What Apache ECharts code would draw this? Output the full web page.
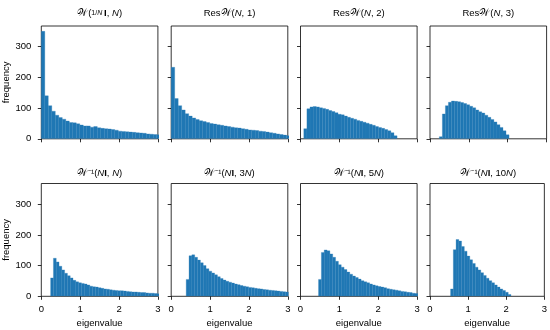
<!DOCTYPE html>
<html>
<head>
<meta charset="utf-8">
<script src="https://cdn.jsdelivr.net/npm/echarts@6/dist/echarts.min.js"></script>
<style>
html,body{margin:0;padding:0;background:#fff;}
#main{width:550px;height:330px;}
</style>
</head>
<body>
<div id="main"></div>
<script>
// 标题
var titles = [
  '{c|𝒲}({s|1/}{si|N}\u2009{b|I}, {i|N})',
  'Res{c|𝒲}({i|N}, 1)',
  'Res{c|𝒲}({i|N}, 2)',
  'Res{c|𝒲}({i|N}, 3)',
  '{c|𝒲}⁻¹({i|N}{b|I}, {i|N})',
  '{c|𝒲}⁻¹({i|N}{b|I}, 3{i|N})',
  '{c|𝒲}⁻¹({i|N}{b|I}, 5{i|N})',
  '{c|𝒲}⁻¹({i|N}{b|I}, 10{i|N})'
];

// 每个直方图的起始边和组距
var binStart = [0, 0, 0.085, 0.24, 0.24, 0.386, 0.464, 0.54];
var binWidth = [0.09, 0.09, 0.08, 0.078, 0.072, 0.073, 0.073, 0.072];

// 频数
var counts1 = [350, 140, 108, 90, 77, 69, 64, 58, 53, 52, 49, 45, 42, 42, 38, 40, 36, 34, 33, 32,
  30, 28, 25, 24, 23, 22, 21, 20, 19, 18, 16, 15, 14, 13];
var counts2 = [233, 131, 108, 94, 82, 74, 68, 63, 59, 56, 53, 50, 48, 46, 44, 42, 40, 38, 36, 35,
  33, 31, 29, 28, 27, 25, 24, 22, 20, 18, 16, 14, 12, 10];
var counts3 = [33, 98, 104, 105, 104, 101, 99, 96, 92, 89, 85, 80, 78, 74, 70, 67, 64, 60, 57, 54,
  51, 47, 44, 40, 37, 34, 30, 26, 20, 10];
var counts4 = [7, 81, 108, 119, 123, 122, 121, 118, 115, 111, 106, 101, 94, 88, 84, 77, 70, 63, 55, 46,
  37, 26, 13];
var counts5 = [60, 124, 112, 98, 86, 75, 67, 60, 52, 47, 44, 42, 40, 37, 33, 31, 30, 28, 26, 24,
  23, 21, 20, 19, 18, 18, 17, 16, 15, 14, 14, 13, 12, 12, 11, 10, 10, 9, 8];
var counts6 = [55, 132, 135, 127, 118, 109, 100, 90, 82, 76, 70, 64, 58, 53, 49, 46, 43, 40, 38, 35,
  33, 31, 29, 28, 26, 25, 24, 22, 21, 20, 19, 18, 17, 16, 15, 14];
var counts7 = [55, 143, 151, 148, 138, 127, 114, 103, 95, 87, 79, 72, 66, 61, 56, 51, 47, 44, 40, 37,
  34, 32, 30, 28, 25, 23, 21, 20, 18, 16, 15, 13, 12, 10, 9];
var counts8 = [24, 152, 185, 180, 162, 147, 131, 119, 107, 95, 86, 77, 68, 59, 51, 44, 37, 30, 24, 19,
  13, 6];
var allCounts = [counts1, counts2, counts3, counts4, counts5, counts6, counts7, counts8];

var yTicks = [0, 100, 200, 300];
var xTicks = [0, 1, 2, 3];

var lefts = [41.3, 171.2, 300.5, 430];
var tops = [26, 183.5];
var gw = 116.6, gh = 112.8;
var font = 'Liberation Sans';

var grids = [], xAxes = [], yAxes = [], series = [], titleList = [];

function renderBar(params, api){
    var a = api.coord([api.value(0), api.value(2)]);
    var b = api.coord([api.value(1), 0]);
    return {
        type: 'rect',
        shape: {x: a[0], y: a[1], width: b[0] - a[0], height: b[1] - a[1]},
        style: {fill: '#1f77b4', stroke: '#2b7fb9', lineWidth: 0.3}
    };
}

for (var p = 0; p < 8; p++) {
    var row = Math.floor(p / 4), col = p % 4;
    grids.push({
        left: lefts[col], top: tops[row], width: gw, height: gh,
        show: true, borderColor: '#000', borderWidth: 0.8, backgroundColor: '#fff'
    });
    xAxes.push({
        gridIndex: p, type: 'value', min: 0, max: 3, interval: 1,
        axisLine: {show: false},
        splitLine: {show: false},
        axisTick: {show: true, length: 3.5, customValues: xTicks, lineStyle: {color: '#000', width: 0.8}},
        axisLabel: {show: row === 1, customValues: xTicks, margin: 8, fontFamily: font, fontSize: 9.5, color: '#000'},
        name: row === 1 ? 'eigenvalue' : '',
        nameLocation: 'middle', nameGap: 22,
        nameTextStyle: {fontFamily: font, fontSize: 9.5, color: '#000'}
    });
    yAxes.push({
        gridIndex: p, type: 'value', min: 0, max: 367.5, interval: 100,
        axisLine: {show: false},
        splitLine: {show: false},
        axisTick: {show: true, length: 3.5, customValues: yTicks, lineStyle: {color: '#000', width: 0.8}},
        axisLabel: {show: col === 0, customValues: yTicks, margin: 10, fontFamily: font, fontSize: 9.5, color: '#000'},
        name: col === 0 ? 'frequency' : '',
        nameLocation: 'middle', nameGap: 27,
        nameTextStyle: {fontFamily: font, fontSize: 9.5, color: '#000'}
    });
    var data = [];
    var c = allCounts[p];
    for (var i = 0; i < c.length; i++) {
        var x0 = binStart[p] + i * binWidth[p];
        data.push([x0, x0 + binWidth[p], c[i]]);
    }
    series.push({
        type: 'custom', xAxisIndex: p, yAxisIndex: p, clip: true,
        renderItem: renderBar,
        encode: {x: [0, 1], y: 2},
        data: data,
        silent: true
    });
    titleList.push({
        text: titles[p],
        left: lefts[col] + gw / 2,
        top: row === 0 ? 8 : 168,
        textAlign: 'center',
        padding: 0,
        textStyle: {
            fontFamily: font, fontSize: 9.5, fontWeight: 'normal', color: '#000',
            rich: {
                c: {fontFamily: 'DejaVu Sans', fontSize: 10, color: '#000', padding: [0, 1, 0, 0]},
                i: {fontFamily: font, fontStyle: 'italic', fontSize: 9.5, color: '#000'},
                si: {fontFamily: font, fontStyle: 'italic', fontSize: 7, color: '#000'},
                s: {fontFamily: font, fontSize: 7, color: '#000'},
                b: {fontFamily: font, fontWeight: 'bold', fontSize: 9.5, color: '#000'}
            }
        }
    });
}

var myChart = echarts.init(document.getElementById('main'), null, {renderer: 'canvas'});
myChart.setOption({
    animation: false,
    backgroundColor: '#fff',
    title: titleList,
    grid: grids,
    xAxis: xAxes,
    yAxis: yAxes,
    series: series
});
</script>
</body>
</html>
